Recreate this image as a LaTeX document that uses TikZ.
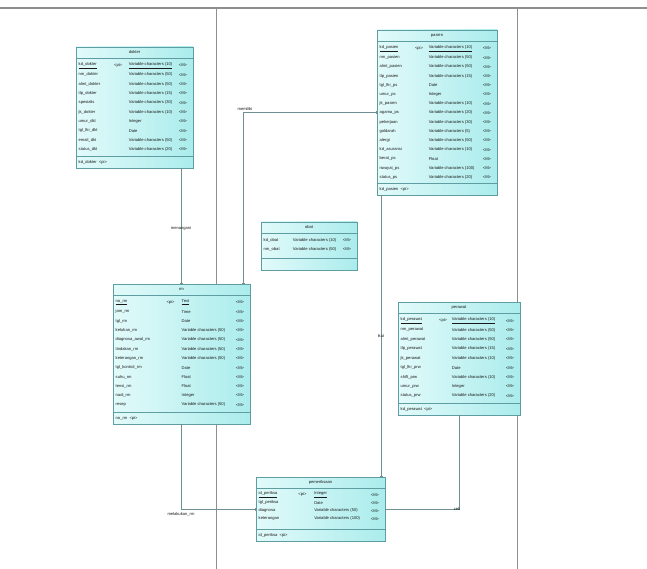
\documentclass[tikz,border=0pt]{standalone}
\usepackage{fontspec}
\setmainfont{Liberation Sans}
\usepackage{xcolor}
\usepackage{tikz}
\usetikzlibrary{arrows.meta,fit}
\definecolor{entL}{HTML}{E2FAFA}
\definecolor{entR}{HTML}{ABECEC}
\definecolor{entB}{HTML}{5E9EA3}
\definecolor{relc}{HTML}{6F9092}
\definecolor{pagec}{HTML}{8E8E8E}
\tikzset{
  ent/.style={draw=entB,line width=0.6pt,left color=entL,right color=entR,inner sep=0pt},
  sep/.style={draw=entB,line width=0.5pt},
  txt/.style={font=\fontsize{4.1}{4.6}\selectfont,text=black!90,inner sep=0pt},
  rel/.style={draw=relc,line width=0.6pt,{Bar[width=3pt]}-{Bar[width=3pt]}},
  pg/.style={draw=pagec,line width=0.8pt}
}
\newcommand{\rowsep}{9.3}
\newcommand{\keyfrac}{0.36}
\newcommand{\typefrac}{0.45}
% #1 name, #2-#5 box, #6 title, #7 rows, #8 identifier
\newcommand{\entity}[8]{%
  \node[ent,fit={(#2,#3) (#4,#5)}] (#1) {};
  \draw[sep] (#2,#3+11) -- (#4,#3+11); \draw[sep] (#2,#5-12) -- (#4,#5-12);
  \node[txt] (#1-t) at ({(#2+#4)/2},#3+5.5) {#6};
  \foreach \nm/\ky/\ty [count=\i] in {#7} {
    \pgfmathsetmacro\ry{#3+13+(\i-0.4)*\rowsep}
    \node[txt,anchor=west] (#1-a\i) at (#2+2.5,\ry) {\nm};
    \node[txt] (#1-k\i) at ({#2+\keyfrac*(#4-#2)},\ry) {\ky};
    \node[txt,anchor=west] (#1-y\i) at ({#2+\typefrac*(#4-#2)},\ry) {\ty};
    \node[txt] (#1-m\i) at (#4-10,\ry) {<M>};
  }
  \node[txt,anchor=west] (#1-f) at (#2+2.5,#5-6) {#8};
}

\begin{document}
\begin{tikzpicture}[x=1pt,y=-1pt]
\useasboundingbox[fill=white] (0,0) rectangle (647,569);
\draw[pg,line width=1.6pt] (0,8) -- (647,8);
\draw[pg] (216,8) -- (216,569); \draw[pg] (517,8) -- (517,569);

\entity{dokter}{76}{47}{193}{168}{dokter}{
  \underline{kd\_dokter}/<pi>/\underline{Variable characters (10)},
  nm\_dokter/{}/Variable characters (50),
  almt\_dokter/{}/Variable characters (50),
  tlp\_dokter/{}/Variable characters (15),
  spesialis/{}/Variable characters (30),
  jk\_dokter/{}/Variable characters (10),
  umur\_dkt/{}/Integer,
  tgl\_lhr\_dkt/{}/Date,
  email\_dkt/{}/Variable characters (50),
  status\_dkt/{}/Variable characters (20)}{kd\_dokter \ <pi>}

\renewcommand{\rowsep}{9.2}\renewcommand{\keyfrac}{0.35}\renewcommand{\typefrac}{0.43}
\entity{pasien}{377}{30}{497}{195}{pasien}{
  \underline{kd\_pasien}/<pi>/\underline{Variable characters (10)},
  nm\_pasien/{}/Variable characters (50),
  almt\_pasien/{}/Variable characters (50),
  tlp\_pasien/{}/Variable characters (15),
  tgl\_lhr\_ps/{}/Date,
  umur\_ps/{}/Integer,
  jk\_pasien/{}/Variable characters (10),
  agama\_ps/{}/Variable characters (20),
  pekerjaan/{}/Variable characters (30),
  goldarah/{}/Variable characters (5),
  alergi/{}/Variable characters (50),
  kd\_asuransi/{}/Variable characters (10),
  berat\_ps/{}/Float,
  riwayat\_ps/{}/Variable characters (100),
  status\_ps/{}/Variable characters (20)}{kd\_pasien \ <pi>}

\renewcommand{\rowsep}{9}\renewcommand{\keyfrac}{0.33}\renewcommand{\typefrac}{0.33}
\entity{obat}{261}{222}{357}{270}{obat}{
  kd\_obat/{}/Variable characters (10),
  nm\_obat/{}/Variable characters (50)}{}

\renewcommand{\rowsep}{9.3}\renewcommand{\keyfrac}{0.42}\renewcommand{\typefrac}{0.5}
\entity{rm}{113}{284}{250}{424}{rm}{
  \underline{no\_rm}/<pi>/\underline{Text},
  jam\_rm/{}/Time,
  tgl\_rm/{}/Date,
  keluhan\_rm/{}/Variable characters (50),
  diagnosa\_awal\_rm/{}/Variable characters (50),
  tindakan\_rm/{}/Variable characters (50),
  keterangan\_rm/{}/Variable characters (50),
  tgl\_kontrol\_rm/{}/Date,
  suhu\_rm/{}/Float,
  tensi\_rm/{}/Float,
  nadi\_rm/{}/Integer,
  resep/{}/Variable characters (50)}{no\_rm \ <pi>}

\renewcommand{\rowsep}{9.4}\renewcommand{\keyfrac}{0.37}\renewcommand{\typefrac}{0.44}
\entity{perawat}{398}{302}{520}{415}{perawat}{
  \underline{kd\_perawat}/<pi>/\underline{Variable characters (10)},
  nm\_perawat/{}/Variable characters (50),
  almt\_perawat/{}/Variable characters (50),
  tlp\_perawat/{}/Variable characters (15),
  jk\_perawat/{}/Variable characters (10),
  tgl\_lhr\_prw/{}/Date,
  shift\_prw/{}/Variable characters (10),
  umur\_prw/{}/Integer,
  status\_prw/{}/Variable characters (20)}{kd\_perawat \ <pi>}

\renewcommand{\rowsep}{8}\renewcommand{\keyfrac}{0.36}\renewcommand{\typefrac}{0.45}
\entity{periksa}{256}{477}{385}{541}{pemeriksaan}{
  \underline{id\_periksa}/<pi>/\underline{Integer},
  tgl\_periksa/{}/Date,
  diagnosa/{}/Variable characters (50),
  keterangan/{}/Variable characters (100)}{id\_periksa \ <pi>}

\coordinate (p1) at ([xshift=-56pt]pasien.south);
\draw[rel] (dokter.south -| rm.north) -- (rm.north);
\draw[rel] (pasien.west) -| ([xshift=61.5pt]rm.north);
\draw[rel] (p1) -- (p1 |- periksa.north);
\draw[rel] (rm.south) |- (periksa.west);
\draw[rel] (perawat.south) |- (periksa.east);
\node[txt] (lmenangani) at (181,228) {menangani};
\node[txt] (lmemiliki) at (245,109) {memiliki};
\node[txt] (likut) at (381,336) {ikut};
\node[txt] (lmelakukan) at (181,514) {melakukan\_rm};
\node[txt] (lcek) at (457,509) {cek};
\end{tikzpicture}
\end{document}
